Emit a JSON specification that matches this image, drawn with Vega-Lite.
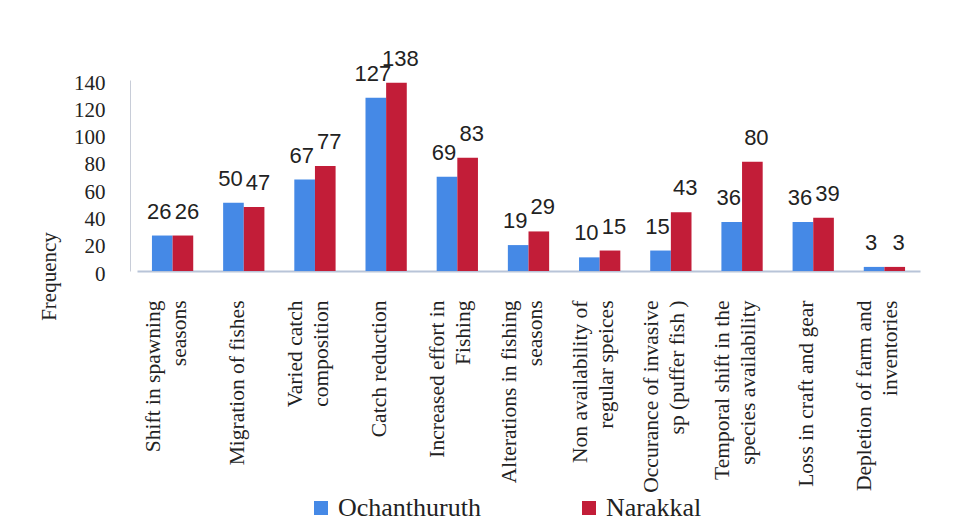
{
  "$schema": "https://vega.github.io/schema/vega-lite/v6.json",
  "autosize": {"type": "none"},
  "width": 783,
  "height": 191,
  "padding": {"left": 137, "top": 80, "right": 41, "bottom": 255},
  "background": "white",
  "config": {"view": {"stroke": null}},
  "data": {
    "values": [
      {"category": "Shift  in spawning|seasons", "site": "Ochanthuruth", "frequency": 26},
      {"category": "Shift  in spawning|seasons", "site": "Narakkal", "frequency": 26},
      {"category": "Migration of fishes", "site": "Ochanthuruth", "frequency": 50},
      {"category": "Migration of fishes", "site": "Narakkal", "frequency": 47},
      {"category": "Varied catch|composition", "site": "Ochanthuruth", "frequency": 67},
      {"category": "Varied catch|composition", "site": "Narakkal", "frequency": 77},
      {"category": "Catch reduction", "site": "Ochanthuruth", "frequency": 127},
      {"category": "Catch reduction", "site": "Narakkal", "frequency": 138},
      {"category": "Increased effort in|Fishing", "site": "Ochanthuruth", "frequency": 69},
      {"category": "Increased effort in|Fishing", "site": "Narakkal", "frequency": 83},
      {"category": "Alterations in fishing|seasons", "site": "Ochanthuruth", "frequency": 19},
      {"category": "Alterations in fishing|seasons", "site": "Narakkal", "frequency": 29},
      {"category": "Non availability of|regular speices", "site": "Ochanthuruth", "frequency": 10},
      {"category": "Non availability of|regular speices", "site": "Narakkal", "frequency": 15},
      {"category": "Occurance of invasive|sp (puffer fish )", "site": "Ochanthuruth", "frequency": 15},
      {"category": "Occurance of invasive|sp (puffer fish )", "site": "Narakkal", "frequency": 43},
      {"category": "Temporal shift in the|species  availability", "site": "Ochanthuruth", "frequency": 36},
      {"category": "Temporal shift in the|species  availability", "site": "Narakkal", "frequency": 80},
      {"category": "Loss in craft and gear", "site": "Ochanthuruth", "frequency": 36},
      {"category": "Loss in craft and gear", "site": "Narakkal", "frequency": 39},
      {"category": "Depletion of farm and|inventories", "site": "Ochanthuruth", "frequency": 3},
      {"category": "Depletion of farm and|inventories", "site": "Narakkal", "frequency": 3}
    ]
  },
  "encoding": {
    "x": {
      "field": "category",
      "type": "nominal",
      "sort": null,
      "scale": {"paddingInner": 0.42, "paddingOuter": 0.21},
      "axis": {
        "title": null,
        "labelAngle": -90,
        "labelAlign": "right",
        "labelBaseline": "middle",
        "labelExpr": "split(datum.label, '|')",
        "labelFont": "Liberation Serif",
        "labelFontSize": 21.5,
        "labelLineHeight": 26,
        "labelColor": "#222222",
        "labelPadding": 29,
        "labelLimit": 300,
        "labelOffset": {"condition": {"test": "indexof(datum.value, '|') >= 0", "value": -19}, "value": -6},
        "ticks": false,
        "domain": true,
        "domainColor": "#b8c4d8",
        "domainWidth": 2
      }
    },
    "xOffset": {"field": "site", "type": "nominal", "sort": ["Ochanthuruth", "Narakkal"]},
    "y": {
      "field": "frequency",
      "type": "quantitative",
      "scale": {"domain": [0, 140], "nice": false},
      "axis": {
        "title": "Frequency",
        "titleFont": "Liberation Serif",
        "titleFontSize": 21,
        "titleFontWeight": "normal",
        "titleColor": "#222222",
        "titleAngle": -90,
        "titleX": -81,
        "titleY": 196,
        "titleAlign": "center",
        "titleBaseline": "middle",
        "values": [0, 20, 40, 60, 80, 100, 120, 140],
        "labelFont": "Liberation Serif",
        "labelFontSize": 21,
        "labelColor": "#222222",
        "labelPadding": 25,
        "labelOffset": 3,
        "ticks": false,
        "grid": false,
        "offset": 7,
        "domain": true,
        "domainColor": "#c8cdd8"
      }
    }
  },
  "layer": [
    {
      "mark": {"type": "bar"},
      "encoding": {
        "color": {
          "field": "site",
          "type": "nominal",
          "sort": ["Ochanthuruth", "Narakkal"],
          "scale": {"domain": ["Ochanthuruth", "Narakkal"], "range": ["#4589e6", "#c21d38"]},
          "legend": {
            "title": null,
            "orient": "none",
            "direction": "horizontal",
            "legendX": 171,
            "legendY": 415,
            "symbolType": "square",
            "symbolSize": 196,
            "symbolStrokeWidth": 0,
            "labelFont": "Liberation Serif",
            "labelFontSize": 26,
            "labelColor": "#222222",
            "labelOffset": 4,
            "columnPadding": 95,
            "labelLimit": 300
          }
        }
      }
    },
    {
      "transform": [{"filter": "datum.site === 'Ochanthuruth'"}],
      "mark": {"type": "text", "baseline": "bottom", "dy": -12, "dx": -3, "font": "Liberation Sans Narrow, Liberation Sans", "fontSize": 22, "color": "#222222"},
      "encoding": {
        "text": {"field": "frequency", "type": "quantitative"}
      }
    },
    {
      "transform": [{"filter": "datum.site === 'Narakkal'"}],
      "mark": {"type": "text", "baseline": "bottom", "dy": -12, "dx": 4, "font": "Liberation Sans Narrow, Liberation Sans", "fontSize": 22, "color": "#222222"},
      "encoding": {
        "text": {"field": "frequency", "type": "quantitative"}
      }
    }
  ]
}
